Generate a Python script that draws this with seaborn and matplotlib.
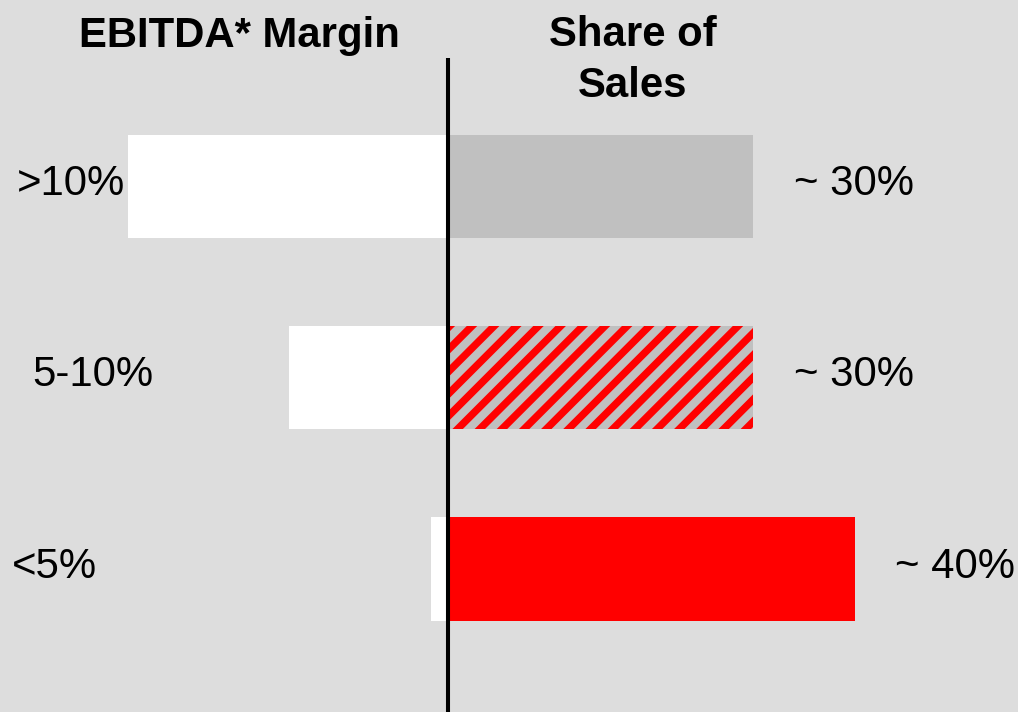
import matplotlib
matplotlib.use("Agg")
import matplotlib.pyplot as plt
import seaborn as sns
import pandas as pd

# data
categories = [">10%", "5-10%", "<5%"]
margin_bar = [31.5, 15.6, 1.7]      # white bars, left of the axis
sales_share = [30, 30, 40]          # share of sales, right of the axis
share_labels = ["~ 30%", "~ 30%", "~ 40%"]

bg = "#dddddd"
bar_colors = {">10%": "#c0c0c0", "5-10%": "#c0c0c0", "<5%": "#ff0000"}

DPI = 133
PX = 10.17  # pixels per percent unit
FS = 22.7

sns.set_theme(style="white")
plt.rcParams["font.family"] = ["Liberation Sans", "DejaVu Sans"]
plt.rcParams["hatch.linewidth"] = 4
plt.rcParams["hatch.color"] = "red"

fig = plt.figure(figsize=(1018 / DPI, 712 / DPI), dpi=DPI, facecolor=bg)
ax = fig.add_axes([0, 0, 1, 1])
ax.set_facecolor(bg)

df = pd.DataFrame({
    "category": categories,
    "margin": [-m for m in margin_bar],
    "share": sales_share,
})

sns.barplot(data=df, x="margin", y="category", color="white", saturation=1,
            width=0.54, orient="h", errorbar=None, linewidth=0, ax=ax)
sns.barplot(data=df, x="share", y="category", hue="category", palette=bar_colors,
            saturation=1, width=0.54, orient="h", errorbar=None, linewidth=0,
            legend=False, ax=ax)

# hatched middle bar
for p in ax.patches:
    yc = p.get_y() + p.get_height() / 2
    if p.get_x() >= -0.01 and p.get_width() > 0 and abs(yc - 1) < 0.05:
        p.set_hatch("//")
        p.set_edgecolor("red")
        p.set_linewidth(0)

ax.vlines(0, -0.672, 2.75, color="black", lw=2.2, zorder=5)

# left labels
left_px = [17, 32, 12]
for i, (lab, px) in enumerate(zip(categories, left_px)):
    ax.text((px - 448) / PX, i + 0.045, lab, ha="left", va="baseline",
            fontsize=FS, color="black")

# right labels
for i, (v, lab) in enumerate(zip(sales_share, share_labels)):
    ax.text(v + 4, i + 0.045, lab, ha="left", va="baseline",
            fontsize=FS, color="black")

ax.set_xlim(-448 / PX, 570 / PX)
ax.set_ylim(2.748, -0.975)
ax.set_axis_off()

fig.text(239 / 1018, 1 - 47 / 712, "EBITDA* Margin", ha="center", va="baseline",
         fontsize=FS, fontweight="bold", color="black")
fig.text(633 / 1018, 1 - 46 / 712, "Share of", ha="center", va="baseline",
         fontsize=FS, fontweight="bold", color="black")
fig.text(633 / 1018, 1 - 97 / 712, "Sales", ha="center", va="baseline",
         fontsize=FS, fontweight="bold", color="black")

fig.savefig("out.png", dpi=DPI, facecolor=bg)
